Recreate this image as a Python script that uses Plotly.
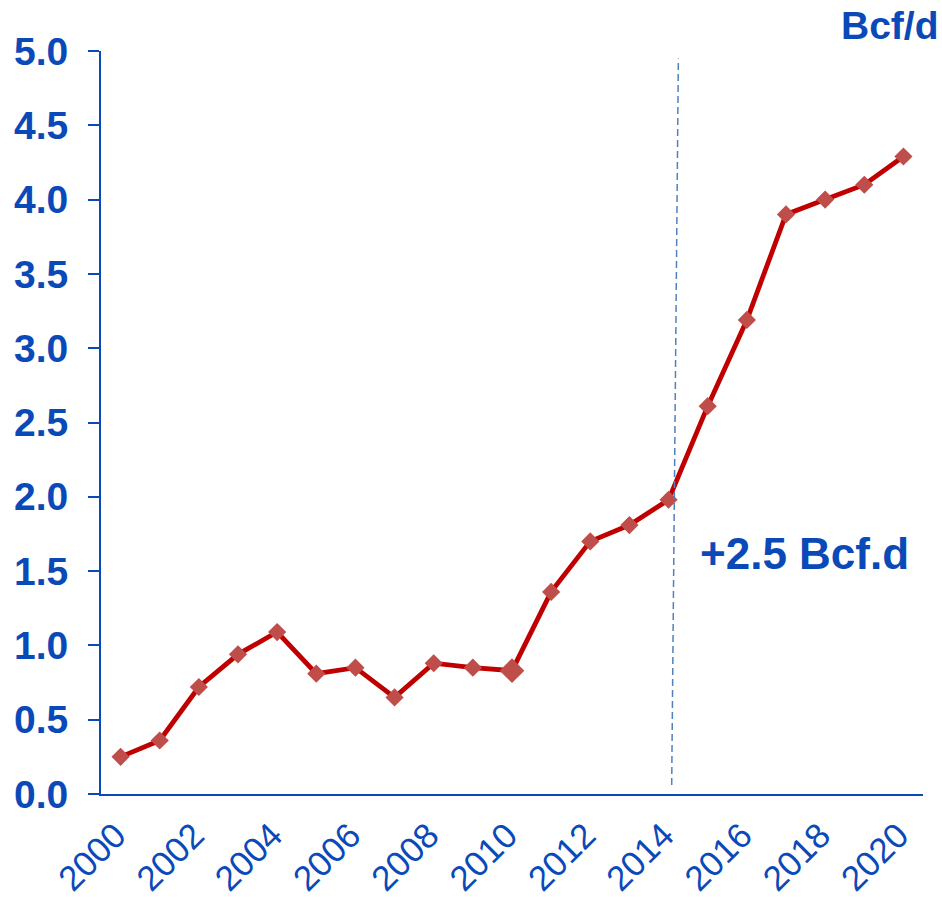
import plotly.graph_objects as go

years = list(range(2000, 2021))
values = [0.25, 0.36, 0.72, 0.94, 1.09, 0.81, 0.85, 0.65, 0.88, 0.85, 0.83,
          1.36, 1.70, 1.81, 1.98, 2.61, 3.19, 3.90, 4.00, 4.10, 4.29]
marker_sizes = [14] * len(years)
marker_sizes[years.index(2010)] = 19
y_ticks = [0.0, 0.5, 1.0, 1.5, 2.0, 2.5, 3.0, 3.5, 4.0, 4.5, 5.0]
x_ticks = list(range(2000, 2021, 2))

BLUE = "#0A4AB8"
FONT = "Liberation Sans, Arial, sans-serif"

L, R, T, B = 101, 19, 51, 103
W, H = 942, 897
PW, PH = W - L - R, H - T - B

def px(x):
    return (x - L) / PW

def py(y):
    return (H - B - y) / PH

fig = go.Figure()
fig.add_trace(go.Scatter(
    x=years, y=values, mode="lines+markers",
    line=dict(color="#C00000", width=4.8),
    marker=dict(symbol="diamond", size=marker_sizes, color="#BF4E4B",
                line=dict(width=0), opacity=1),
    showlegend=False,
))

fig.add_shape(type="line", xref="x", yref="y",
              x0=2014.08, y0=0.06, x1=2014.25, y1=4.95,
              line=dict(color="#4F81BD", width=1.5, dash="7px,4px"))

fig.add_annotation(text="<b>Bcf/d</b>", xref="paper", yref="paper",
                   x=px(941), y=py(26), xanchor="right", yanchor="middle",
                   showarrow=False, font=dict(family=FONT, size=39, color=BLUE))
fig.add_annotation(text="<b>+2.5 Bcf.d</b>", xref="paper", yref="paper",
                   x=px(804), y=py(553), xanchor="center", yanchor="middle",
                   showarrow=False, font=dict(family=FONT, size=44, color=BLUE))

fig.update_layout(
    width=W, height=H,
    margin=dict(l=L, r=R, t=T, b=B, pad=0, autoexpand=False),
    plot_bgcolor="white", paper_bgcolor="white",
    font=dict(family=FONT, color=BLUE),
)
fig.update_xaxes(
    range=[1999.5, 2020.5], tickmode="array", tickvals=x_ticks,
    ticktext=[str(v) + "\u2009" for v in x_ticks], tickangle=-45,
    tickfont=dict(family=FONT, size=35, color=BLUE),
    showline=True, linecolor=BLUE, linewidth=2, ticks="",
    showgrid=False, zeroline=False, ticklabelstandoff=0, automargin=False,
)
fig.update_yaxes(
    range=[0, 5], tickmode="array", tickvals=y_ticks,
    ticktext=["<b>%.1f</b>" % v for v in y_ticks],
    tickfont=dict(family=FONT, size=39, color=BLUE),
    showline=True, linecolor=BLUE, linewidth=2, ticks="outside",
    ticklen=11, tickwidth=2, tickcolor=BLUE,
    showgrid=False, zeroline=False, ticklabelstandoff=12, automargin=False,
)

fig.write_html("out.html", config={"displayModeBar": False},
               post_script="document.body.style.margin='0';document.body.style.overflow='hidden';")
